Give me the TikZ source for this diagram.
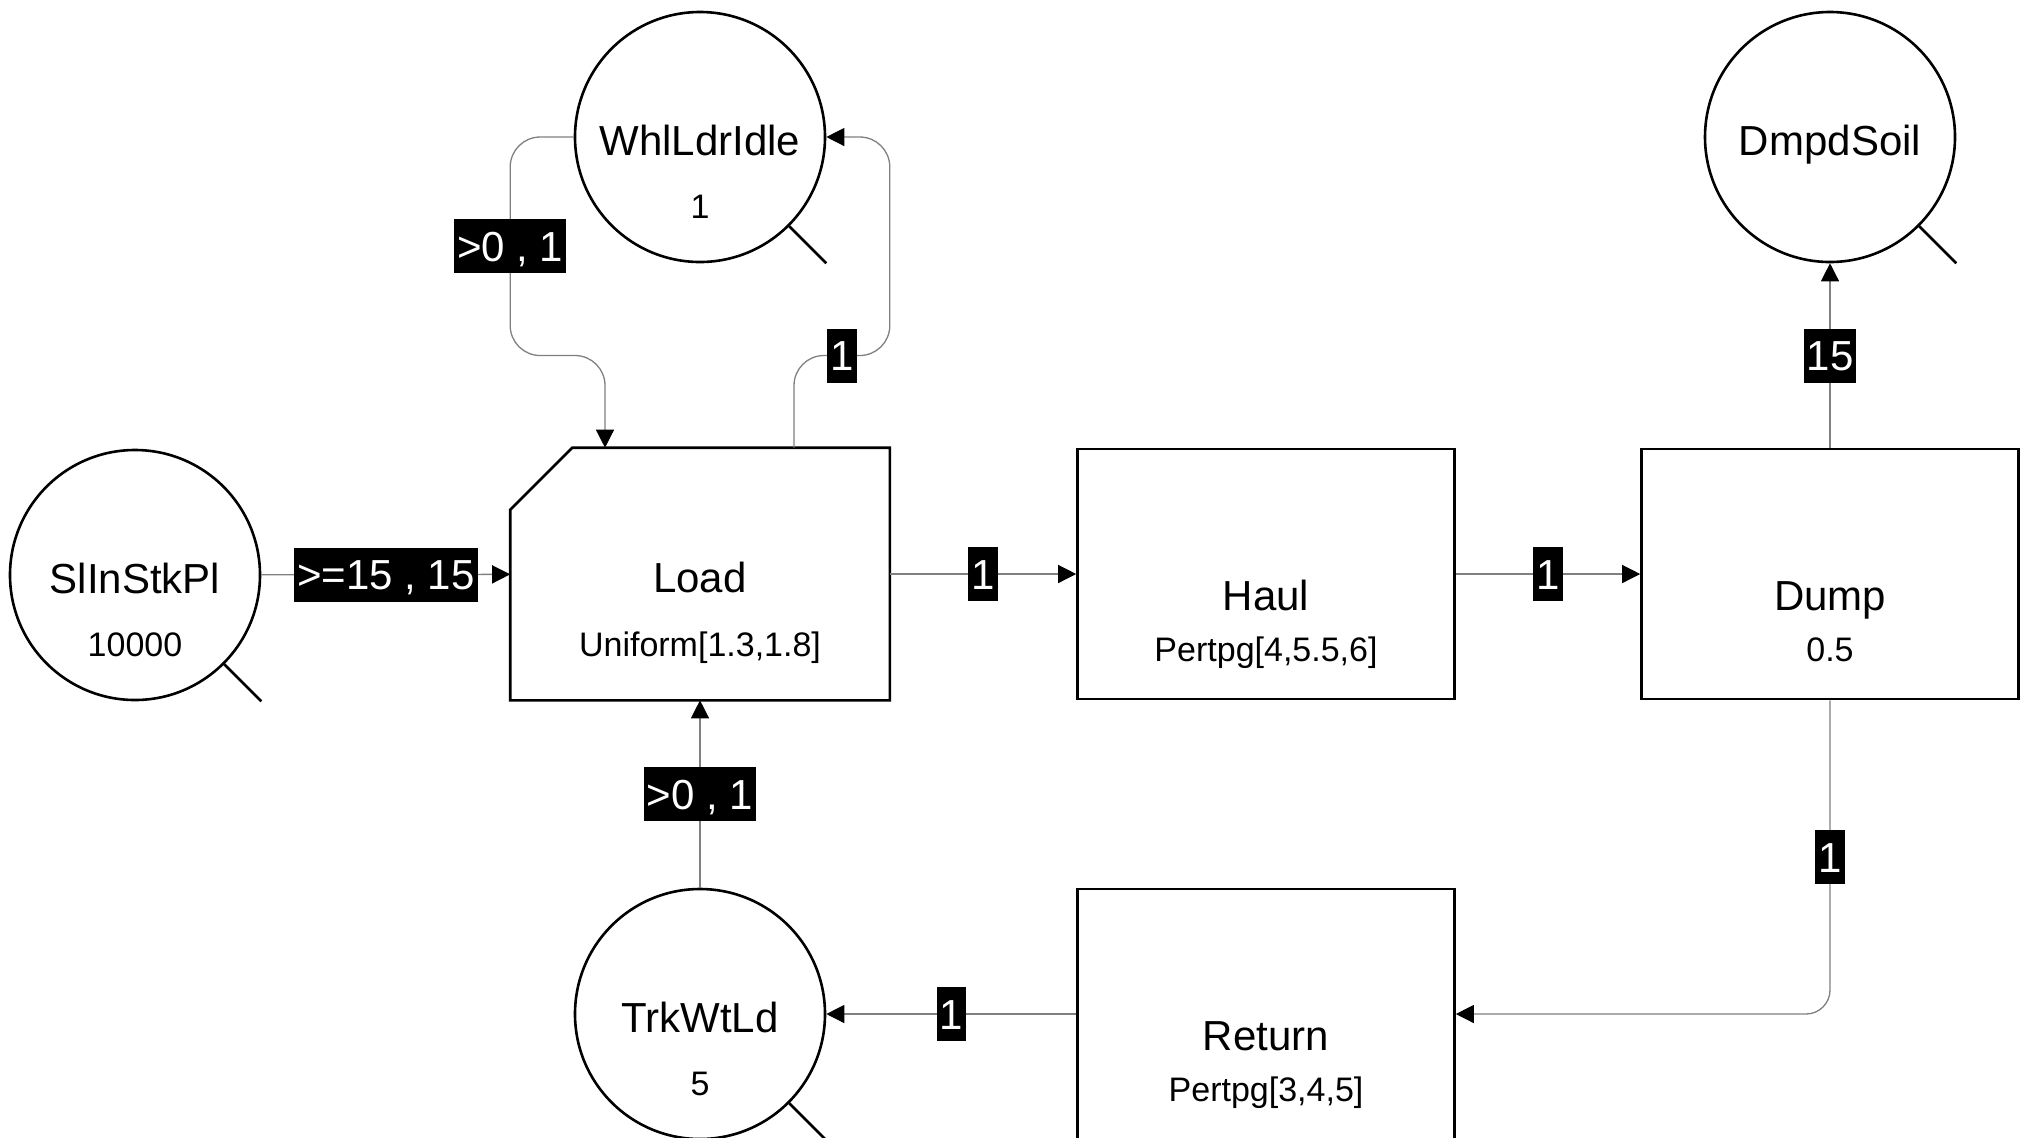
\documentclass[tikz,border=0pt]{standalone}
\usepackage{fontspec}
\setmainfont{Liberation Sans}
\usetikzlibrary{arrows.meta,calc}

\begin{document}
\begin{tikzpicture}[
  x=0.5pt, y=-0.5pt,
  queue/.style={draw, circle, line width=1.3pt, minimum size=125pt, inner sep=0pt},
  activity/.style={draw, line width=1.3pt, minimum width=188.5pt, minimum height=125pt, inner sep=0pt},
  heading/.style={anchor=base, inner sep=0pt, font=\fontsize{21}{25}\selectfont},
  param/.style={anchor=base, inner sep=0pt, font=\fontsize{17}{20}\selectfont},
  flow/.style={draw=gray, line width=0.65pt, -{Triangle[length=9pt, width=9pt, color=black]}},
  tag/.style={sharp corners, fill=black, text=white, inner xsep=1.5pt, inner ysep=0pt, minimum height=27pt,
    text height=15pt, text depth=0pt, font=\fontsize{21}{25}\selectfont},
  whisker/.style={line width=1.3pt}
]
  \useasboundingbox (0,0) rectangle (2023,1137);

  % queues
  \node[queue] (slin) at (135,575) {};
  \node[heading] (slin-n) at ($(slin)+(0,18)$) {SlInStkPl};
  \node[param] (slin-p) at ($(slin)+(0,81)$) {10000};
  \node[queue] (idle) at (700,137) {};
  \node[heading] (idle-n) at ($(idle)+(0,18)$) {WhlLdrIdle};
  \node[param] (idle-p) at ($(idle)+(0,81)$) {1};
  \node[queue] (soil) at (1830,137) {};
  \node[heading] (soil-n) at ($(soil)+(0,18)$) {DmpdSoil};
  \node[queue] (wait) at (700,1014) {};
  \node[heading] (wait-n) at ($(wait)+(0,18)$) {TrkWtLd};
  \node[param] (wait-p) at ($(wait)+(0,81)$) {5};
  \foreach \q in {slin,idle,soil,wait}
    \draw[whisker] (\q.south east) -- (\q.south -| \q.east);

  % activities
  \node[activity, draw=none] (load) at (700,574) {};
  \draw[whisker] ($(load.north west)+(0,62)$) -- ($(load.north west)+(62,0)$)
    -- (load.north east) -- (load.south east) -- (load.south west) -- cycle;
  \node[heading] (load-n) at ($(load)+(0,18)$) {Load};
  \node[param] (load-p) at ($(load)+(0,82)$) {Uniform[1.3,1.8]};
  \node[activity] (haul) at (1266,574) {};
  \node[heading] (haul-n) at ($(haul)+(0,36)$) {Haul};
  \node[param] (haul-p) at ($(haul)+(0,87)$) {Pertpg[4,5.5,6]};
  \node[activity] (dump) at (1830,574) {};
  \node[heading] (dump-n) at ($(dump)+(0,36)$) {Dump};
  \node[param] (dump-p) at ($(dump)+(0,87)$) {0.5};
  \node[activity] (back) at (1266,1014) {};
  \node[heading] (back-n) at ($(back)+(0,36)$) {Return};
  \node[param] (back-p) at ($(back)+(0,87)$) {Pertpg[3,4,5]};

  % flows
  \draw[flow] (slin) -- node[tag] {>=15 , 15} (load);
  \draw[flow] (load) -- node[tag] {1} (haul);
  \draw[flow] (haul) -- node[tag] {1} (dump);
  \draw[flow] (dump) -- node[tag] {15} (soil);
  \draw[flow, rounded corners=12pt] (dump.south) |- node[tag, pos=0.25] {1} (back.east);
  \draw[flow] (back) -- node[tag] {1} (wait);
  \draw[flow] (wait) -- node[tag] {>0 , 1} (load);

  % loader loop
  \coordinate (loop) at ($(idle.south)!.5!(load.north)$);
  \coordinate (idle-in) at ($(load.north)+(-95,0)$);
  \coordinate (idle-out) at ($(load.north)+(94,0)$);
  \draw[flow, rounded corners=15pt] (idle.west) -- (idle.west -| load.west)
    -- node[tag] {>0 , 1} (load.west |- loop) -- (idle-in |- loop) -- (idle-in);
  \draw[flow, rounded corners=15pt] (idle-out) -- (idle-out |- loop)
    -- node[tag] {1} (load.east |- loop) -- (load.east |- idle.east) -- (idle.east);
\end{tikzpicture}
\end{document}
